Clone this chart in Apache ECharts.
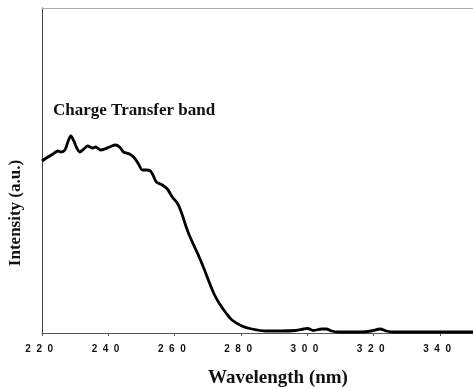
<!DOCTYPE html>
<html>
<head>
<meta charset="utf-8">
<script src="https://cdn.jsdelivr.net/npm/echarts@6/dist/echarts.min.js"></script>
<style>
  html, body { margin: 0; padding: 0; background: #fff; }
  #chart { width: 473px; height: 389px; }
</style>
</head>
<body>
<div id="chart"></div>
<script>
// wavelength (nm) and intensity (a.u.)
var wavelength = [220.0, 221.8, 223.3, 224.8, 225.7, 226.9, 227.8, 228.7, 229.6, 230.5,
    231.4, 232.6, 233.8, 235.3, 236.2, 237.7, 238.9, 240.4, 242.2, 243.4,
    244.6, 246.4, 247.9, 249.1, 250.3, 251.5, 252.7, 253.6, 254.5, 256.3,
    257.8, 259.3, 260.8, 262.0, 263.5, 264.4, 265.9, 267.4, 268.9, 270.4,
    271.9, 273.4, 275.5, 277.3, 280.3, 283.3, 287.5, 292.3, 296.5, 298.9,
    300.1, 301.9, 304.3, 305.8, 307.3, 309.4, 312.4, 316.3, 319.3, 322.0,
    323.8, 325.9, 329.5, 336.4, 350.0];
var intensity = [172, 176, 179, 182, 181, 183, 191, 197, 192, 185,
    181, 184, 187, 185, 186, 183, 184, 186, 188, 186,
    181, 179, 175, 169, 163, 163, 162, 157, 151, 148,
    144, 136, 130, 121, 106, 98, 87, 76, 64, 51,
    39, 30, 20, 13, 7, 4, 2, 2, 2.5, 4,
    4.5, 2.5, 4, 4, 2, 1, 1, 1, 2, 4,
    2, 1, 1, 1, 1];
var xTicks = [220, 240, 260, 280, 300, 320, 340];

var chart = echarts.init(document.getElementById('chart'));

var option = {
    animation: false,
    grid: {left: 42, right: -2, top: 8, bottom: 56},
    xAxis: [{
        type: 'value',
        min: 220,
        max: 350,
        interval: 20,
        axisLine: {lineStyle: {color: '#555', width: 1}},
        axisTick: {show: true, length: 3, lineStyle: {color: '#555'}},
        splitLine: {show: false},
        axisLabel: {
            margin: 11,
            color: '#111',
            fontFamily: 'Liberation Sans',
            fontWeight: 'bold',
            fontSize: 10,
            showMaxLabel: false,
            formatter: function (v) {
                if (xTicks.indexOf(v) < 0) return '';
                return String(v).split('').join('  ') + '  ';
            }
        }
    }, {
        type: 'value',
        position: 'top',
        min: 220,
        max: 350,
        axisLine: {show: true, lineStyle: {color: '#aaa', width: 1}},
        axisTick: {show: false},
        axisLabel: {show: false},
        splitLine: {show: false}
    }],
    yAxis: {
        type: 'value',
        min: 0,
        max: 325,
        axisLine: {show: true, lineStyle: {color: '#444', width: 1}},
        axisTick: {show: false},
        axisLabel: {show: false},
        splitLine: {show: false}
    },
    graphic: [{
        type: 'text',
        left: 53,
        top: 102,
        style: {
            text: 'Charge Transfer band',
            fill: '#111',
            font: 'bold 17px "Liberation Serif"'
        }
    }, {
        type: 'text',
        x: 278,
        y: 378,
        style: {
            text: 'Wavelength (nm)',
            fill: '#111',
            align: 'center',
            verticalAlign: 'middle',
            font: 'bold 19px "Liberation Serif"'
        }
    }, {
        type: 'text',
        x: 16,
        y: 213,
        rotation: Math.PI / 2,
        style: {
            text: 'Intensity (a.u.)',
            fill: '#111',
            align: 'center',
            verticalAlign: 'middle',
            font: 'bold 17px "Liberation Serif"'
        }
    }],
    series: [{
        type: 'line',
        xAxisIndex: 0,
        data: wavelength.map(function (w, i) { return [w, intensity[i]]; }),
        smooth: 0.3,
        showSymbol: false,
        lineStyle: {color: '#000', width: 2.8}
    }]
};

chart.setOption(option);
</script>
</body>
</html>
